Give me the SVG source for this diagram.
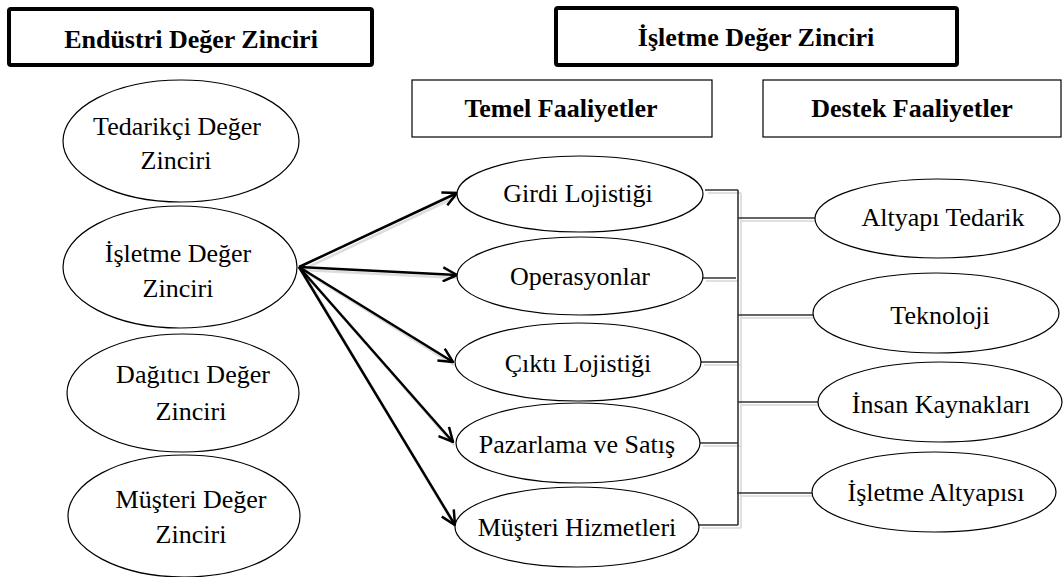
<svg xmlns="http://www.w3.org/2000/svg" width="1063" height="577" viewBox="0 0 1063 577">
  <style>
    .hdr { fill: #fff; stroke: #000; stroke-width: 4; }
    .sub { fill: #fff; stroke: #000; stroke-width: 1.2; }
    .ell { fill: #fff; stroke: #000; stroke-width: 1.2; }
    .bt { font-weight: bold; }
    .arrow { stroke: #000; stroke-width: 2.5; fill: none; marker-end: url(#vhead); }
    .arrow-sh { stroke: #bbb; stroke-width: 2.5; fill: none; opacity: 0.5; }
    .link { stroke: #333; stroke-width: 1.6; fill: none; }
    .link-sh { stroke: #ccc; stroke-width: 2; fill: none; opacity: 0.6; }
  </style>
  <defs>
    <marker id="vhead" viewBox="0 0 16 16" refX="15" refY="8" markerWidth="16" markerHeight="16" markerUnits="userSpaceOnUse" orient="auto">
      <path d="M1,1 L15,8 L1,15" fill="none" stroke="#000" stroke-width="2.5"/>
    </marker>
  </defs>

  <rect width="1063" height="577" fill="#fff"/>

  <g font-family="Liberation Serif, serif" font-size="26" text-anchor="middle" fill="#000">
  <!-- header boxes -->
  <g id="endustri-header">
    <rect class="hdr" x="9" y="9" width="363" height="56" rx="2"/>
    <text class="bt" x="191" y="48">Endüstri Değer Zinciri</text>
  </g>
  <g id="isletme-header">
    <rect class="hdr" x="556" y="8" width="401" height="57" rx="2"/>
    <text class="bt" x="756" y="46">İşletme Değer Zinciri</text>
  </g>
  <g id="temel-header">
    <rect class="sub" x="412" y="80" width="300" height="57"/>
    <text class="bt" x="561" y="117">Temel Faaliyetler</text>
  </g>
  <g id="destek-header">
    <rect class="sub" x="763" y="80" width="298" height="57"/>
    <text class="bt" x="912" y="117">Destek Faaliyetler</text>
  </g>

  <!-- connectors -->
  <g id="connectors">
    <g transform="translate(3,3)">
      <line class="arrow-sh" x1="299" y1="267" x2="455" y2="193"/>
      <line class="arrow-sh" x1="299" y1="267" x2="455" y2="275"/>
      <line class="arrow-sh" x1="299" y1="267" x2="451" y2="362"/>
      <line class="arrow-sh" x1="299" y1="267" x2="451" y2="442"/>
      <line class="arrow-sh" x1="299" y1="267" x2="453" y2="525"/>
      <path class="link-sh" d="M738,190 V525 M705,190 H738 M703,278 H736 M701,362 H738 M700,443 H738 M699,525 H738 M738,218 H815 M738,315 H813 M738,402 H818 M737,493 H812"/>
    </g>
    <line class="arrow" x1="299" y1="267" x2="457" y2="193"/>
    <line class="arrow" x1="299" y1="267" x2="457" y2="275"/>
    <line class="arrow" x1="299" y1="267" x2="453" y2="362"/>
    <line class="arrow" x1="299" y1="267" x2="453" y2="442"/>
    <line class="arrow" x1="299" y1="267" x2="455" y2="525"/>
    <path class="link" d="M738,190 V525 M705,190 H738 M703,278 H736 M701,362 H738 M700,443 H738 M699,525 H738 M738,218 H815 M738,315 H813 M738,402 H818 M737,493 H812"/>
  </g>

  <!-- industry value chain nodes -->
  <g id="tedarikci">
    <ellipse class="ell" cx="181" cy="141" rx="118" ry="61"/>
    <text x="177" y="135">Tedarikçi Değer</text>
    <text x="176" y="169">Zinciri</text>
  </g>
  <g id="isletme">
    <ellipse class="ell" cx="180" cy="267" rx="117" ry="61"/>
    <text x="178" y="262">İşletme Değer</text>
    <text x="178" y="297">Zinciri</text>
  </g>
  <g id="dagitici">
    <ellipse class="ell" cx="183" cy="393" rx="116" ry="59"/>
    <text x="193" y="383">Dağıtıcı Değer</text>
    <text x="191" y="420">Zinciri</text>
  </g>
  <g id="musteri">
    <ellipse class="ell" cx="184" cy="516" rx="116" ry="61"/>
    <text x="191" y="508">Müşteri Değer</text>
    <text x="191" y="543">Zinciri</text>
  </g>

  <!-- primary activities -->
  <g id="girdi">
    <ellipse class="ell" cx="580" cy="194" rx="123" ry="38"/>
    <text x="578" y="202">Girdi Lojistiği</text>
  </g>
  <g id="operasyonlar">
    <ellipse class="ell" cx="580" cy="276" rx="123" ry="39"/>
    <text x="580" y="285">Operasyonlar</text>
  </g>
  <g id="cikti">
    <ellipse class="ell" cx="578" cy="362" rx="123" ry="39"/>
    <text x="578" y="372">Çıktı Lojistiği</text>
  </g>
  <g id="pazarlama">
    <ellipse class="ell" cx="578" cy="443" rx="122" ry="40"/>
    <text x="577" y="453">Pazarlama ve Satış</text>
  </g>
  <g id="musteri-hizmetleri">
    <ellipse class="ell" cx="577" cy="527" rx="122" ry="40"/>
    <text x="577" y="536">Müşteri Hizmetleri</text>
  </g>

  <!-- support activities -->
  <g id="altyapi-tedarik">
    <ellipse class="ell" cx="937.5" cy="218.5" rx="122.5" ry="39.5"/>
    <text x="943" y="226">Altyapı Tedarik</text>
  </g>
  <g id="teknoloji">
    <ellipse class="ell" cx="936" cy="313" rx="123" ry="40"/>
    <text x="940" y="324">Teknoloji</text>
  </g>
  <g id="insan-kaynaklari">
    <ellipse class="ell" cx="940" cy="402" rx="122" ry="40"/>
    <text x="941" y="413">İnsan Kaynakları</text>
  </g>
  <g id="isletme-altyapisi">
    <ellipse class="ell" cx="934" cy="492" rx="122" ry="40"/>
    <text x="936" y="501">İşletme Altyapısı</text>
  </g>
  </g>
</svg>
